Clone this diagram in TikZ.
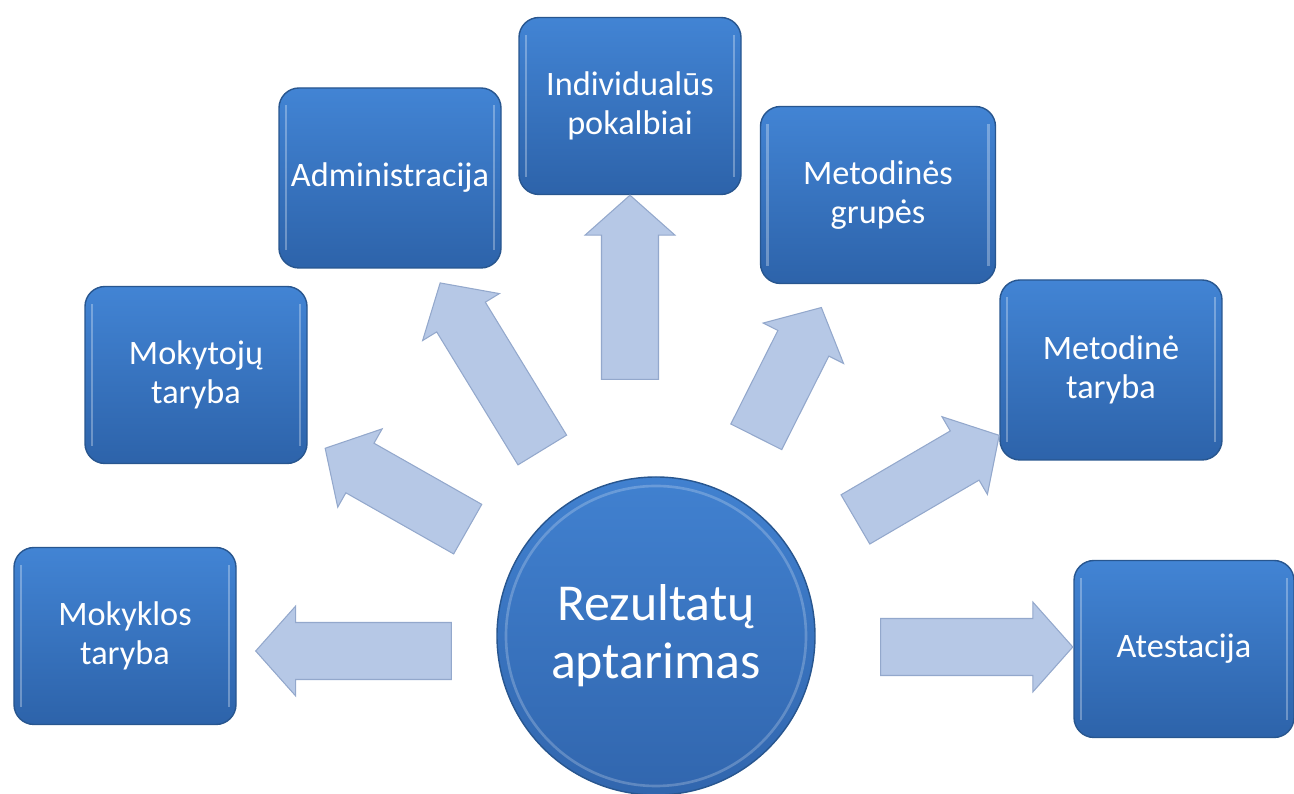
\documentclass[tikz,border=0pt]{standalone}
\usepackage{fontspec}
\setmainfont{Carlito}
\usetikzlibrary{calc}

\definecolor{boxtop}{HTML}{4284D4}
\definecolor{boxbot}{HTML}{2D63AA}
\definecolor{boxedge}{HTML}{28568F}
\definecolor{hubtop}{HTML}{4181D0}
\definecolor{hubbot}{HTML}{3166AE}
\definecolor{arrowfill}{HTML}{B6C8E6}
\definecolor{arrowedge}{HTML}{93A8CC}

\begin{document}
\begin{tikzpicture}[thick,
                box/.style={rectangle,rounded corners=0.4cm,top color=boxtop,bottom color=boxbot,
                  draw=boxedge,line width=0.8pt,minimum width=4.44cm,minimum height=3.54cm,
                  inner sep=0pt,align=center,text=white,font=\fontsize{19.5}{21.8}\selectfont,
                  path picture={
                    \draw[white,opacity=0.3,line width=1.5pt]
                      ([xshift=0.14cm,yshift=-0.35cm]path picture bounding box.north west)
                      -- ([xshift=0.14cm,yshift=0.35cm]path picture bounding box.south west)
                      ([xshift=-0.14cm,yshift=-0.35cm]path picture bounding box.north east)
                      -- ([xshift=-0.14cm,yshift=0.35cm]path picture bounding box.south east);}},
                hub/.style={circle,top color=hubtop,bottom color=hubbot,draw=boxedge,line width=0.8pt,
                  minimum size=6.36cm,inner sep=0pt,align=center,text=white,
                  font=\fontsize{29.5}{33}\selectfont,
                  path picture={
                    \draw[white,opacity=0.22,line width=1.5pt]
                      (path picture bounding box.center) circle (3.0cm);}},
                blockarrow/.style 2 args={draw=arrowedge,fill=arrowfill,line width=0.6pt,line join=miter,
                  to path={
                    ($(\tikztostart)!#1!(\tikztotarget)$) coordinate (tail)
                    ($(\tikztotarget)!#2!(\tikztostart)$) coordinate (tip)
                    ($(tip)!0.8cm!(tail)$) coordinate (neck)
                    ($(tail)!0.57cm!90:(tip)$) -- ($(neck)!0.57cm!90:(tip)$)
                    -- ($(neck)!0.9cm!90:(tip)$) -- (tip)
                    -- ($(neck)!0.9cm!-90:(tip)$) -- ($(neck)!0.57cm!-90:(tip)$)
                    -- ($(tail)!0.57cm!-90:(tip)$) -- cycle}}]
                \useasboundingbox (0,0) rectangle (25.88,15.88);
                \node[hub] (rez) at (13.12,3.16) {Rezultatų\\aptarimas};
                \node[box] (mokykla) at (2.50,3.16) {Mokyklos\\taryba};
                \node[box] (mokytojai) at (3.92,8.38) {Mokytojų\\taryba};
                \node[box,minimum height=3.6cm] (admin) at (7.80,12.32) {Administracija};
                \node[box] (pokalbiai) at (12.60,13.76) {Individualūs\\pokalbiai};
                \node[box,minimum width=4.7cm] (grupes) at (17.56,11.98) {Metodinės\\grupės};
                \node[box,minimum height=3.6cm] (mtaryba) at (22.22,8.48) {Metodinė\\taryba};
                \node[box,minimum width=4.4cm] (atest) at (23.68,2.90) {Atestacija};

                \draw[blockarrow={0.9cm}{0.38cm}] ([yshift=-0.3cm]rez.west) to ([yshift=-0.3cm]mokykla.east);
                \draw[blockarrow={4.33cm}{2.97cm}] (rez) to (mokytojai);
                \draw[blockarrow={4.36cm}{2.46cm}] (rez) to ([xshift=-0.28cm]admin.center);
                \draw[blockarrow={1.94cm}{0cm}] (rez.north -| pokalbiai.south) to (pokalbiai.south);
                \draw[blockarrow={4.46cm}{2.52cm}] (rez) to (grupes);
                \draw[blockarrow={4.62cm}{2.59cm}] (rez) to (mtaryba);
                \draw[blockarrow={1.3cm}{0.01cm}] ([yshift=-0.22cm]rez.east) to ([yshift=0.04cm]atest.west);
\end{tikzpicture}
\end{document}
